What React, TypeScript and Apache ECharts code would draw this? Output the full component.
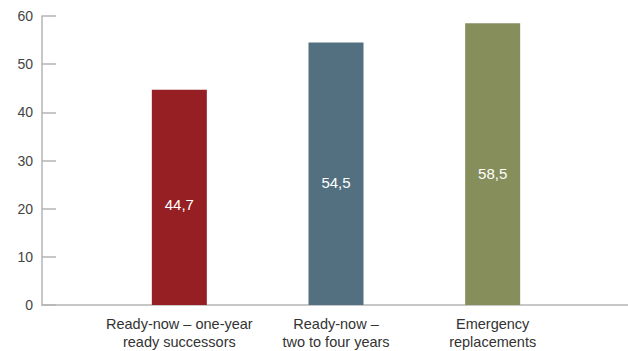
import React, { useEffect, useRef } from "react";
import * as echarts from "echarts";

const categories = ["Ready-now – one-year\nready successors", "Ready-now –\ntwo to four years", "Emergency\nreplacements"];
const values = [44.7, 54.5, 58.5];
const colors = ["#961f24", "#52707f", "#868e5c"];
const yTicks = [0, 10, 20, 30, 40, 50, 60];

export default function App() {
  const ref = useRef<HTMLDivElement>(null);
  useEffect(() => {
    if (!ref.current) return;
    const chart = echarts.init(ref.current, null, { renderer: "svg" });
    const axisColor = "#b5b5b5";
    chart.setOption({
      animation: false,
      grid: [
        { left: 42, right: 0, top: 16, bottom: 46, containLabel: false, outerBoundsMode: "none" },
        { left: 101, width: 470, top: 16, bottom: 46, containLabel: false, outerBoundsMode: "none" },
      ],
      xAxis: [
        {
          gridIndex: 0,
          type: "value",
          min: 0,
          max: 1,
          axisLine: { show: true, lineStyle: { color: axisColor, width: 1.5 } },
          axisTick: { show: false },
          axisLabel: { show: false },
          splitLine: { show: false },
        },
        {
          gridIndex: 1,
          type: "category",
          data: categories,
          axisLine: { show: false },
          axisTick: { show: false },
          axisLabel: {
            color: "#333",
            fontSize: 14.5,
            fontFamily: "Liberation Sans, Arial, sans-serif",
            lineHeight: 18,
            margin: 10,
            interval: 0,
          },
        },
      ],
      yAxis: [
        {
          gridIndex: 0,
          type: "value",
          min: yTicks[0],
          max: yTicks[yTicks.length - 1],
          interval: 10,
          axisLine: { show: true, lineStyle: { color: axisColor, width: 1.5 } },
          axisTick: { show: true, inside: true, length: 14, lineStyle: { color: axisColor, width: 1.5 } },
          axisLabel: {
            color: "#444",
            fontSize: 14,
            fontFamily: "Liberation Sans, Arial, sans-serif",
            margin: 9,
          },
          splitLine: { show: false },
        },
        {
          gridIndex: 1,
          type: "value",
          min: yTicks[0],
          max: yTicks[yTicks.length - 1],
          show: false,
        },
      ],
      series: [
        {
          type: "bar",
          xAxisIndex: 1,
          yAxisIndex: 1,
          barWidth: 55,
          data: values.map((v, i) => ({ value: v, itemStyle: { color: colors[i] } })),
          label: {
            show: true,
            position: ["50%", "53.5%"],
            align: "center",
            verticalAlign: "middle",
            color: "#fff",
            fontSize: 15,
            fontFamily: "Liberation Sans, Arial, sans-serif",
            formatter: (p: any) => String(p.value).replace(".", ","),
          },
        },
      ],
    });
    return () => chart.dispose();
  }, []);
  return <div ref={ref} style={{ width: 628, height: 351, position: "absolute", left: 0, top: 0 }} />;
}
